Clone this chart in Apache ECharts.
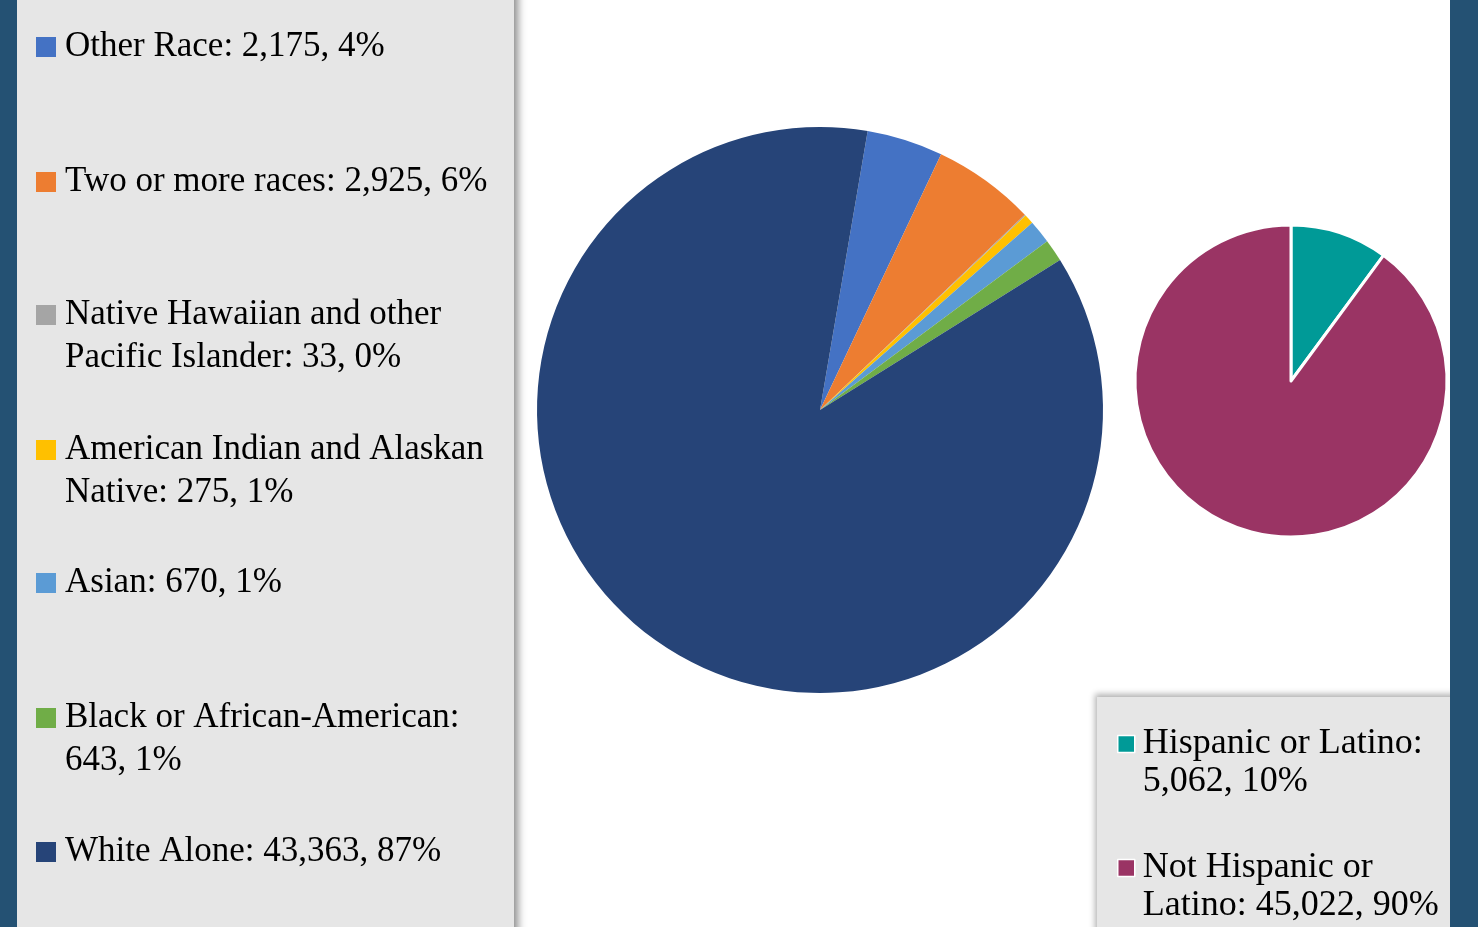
<!DOCTYPE html>
<html>
<head>
<meta charset="utf-8">
<script src="https://cdn.jsdelivr.net/npm/echarts@6/dist/echarts.min.js"></script>
<style>
html, body { margin: 0; padding: 0; background: #fff; }
#chart { width: 1478px; height: 927px; }
</style>
</head>
<body>
<div id="chart"></div>
<script>
// race breakdown (big pie, clockwise from just right of 12 o'clock)
var raceNames = ['Other Race', 'Two or more races', 'Native Hawaiian and other Pacific Islander',
    'American Indian and Alaskan Native', 'Asian', 'Black or African-American', 'White Alone'];
var raceValues = [2175, 2925, 33, 275, 670, 643, 43363];
var raceColors = ['#4472c4', '#ed7d31', '#a5a5a5', '#ffc000', '#5b9bd5', '#70ad47', '#264478'];

// ethnicity (small pie)
var ethNames = ['Hispanic or Latino', 'Not Hispanic or Latino'];
var ethValues = [5062, 45022];
var ethColors = ['#009a97', '#9a3464'];

var measureCtx = document.createElement('canvas').getContext('2d');

function fmtNum(v) {
    return String(v).replace(/\B(?=(\d{3})+(?!\d))/g, ',');
}
function sum(arr) {
    var s = 0;
    for (var i = 0; i < arr.length; i++) s += arr[i];
    return s;
}
// word wrap, so no line starts with a stray space
function wrap(text, font, maxWidth) {
    measureCtx.font = font;
    var words = text.split(' ');
    var lines = [];
    var cur = words[0];
    for (var i = 1; i < words.length; i++) {
        var test = cur + ' ' + words[i];
        if (measureCtx.measureText(test).width > maxWidth) {
            lines.push(cur);
            cur = words[i];
        } else {
            cur = test;
        }
    }
    lines.push(cur);
    return lines;
}
// legend text is vertically centred on the icon, so a wrapped entry gets
// blank lines in front to keep its first line level with the square
function makeFormatter(names, values, font, maxWidth) {
    var total = sum(values);
    return function (name) {
        var i = names.indexOf(name);
        var text = name + ': ' + fmtNum(values[i]) + ', ' + Math.round(values[i] / total * 100) + '%';
        var lines = wrap(text, font, maxWidth);
        return new Array(lines.length).join('\n') + lines.join('\n');
    };
}

// one legend per entry so each sits where the original put it
function raceLegend(i, cy, lines) {
    var lh = 43;
    return {
        data: [raceNames[i]],
        orient: 'vertical',
        left: 36,
        top: cy - (2 * lines - 1) * lh / 2 + 2,
        padding: 0,
        icon: 'rect',
        itemWidth: 20,
        itemHeight: 20,
        selectedMode: false,
        itemStyle: { borderWidth: 0 },
        formatter: makeFormatter(raceNames, raceValues, '35px "Liberation Serif"', 440),
        textStyle: {
            fontFamily: 'Liberation Serif',
            fontSize: 35,
            color: '#000',
            lineHeight: lh,
            padding: [0, 0, 0, 4]
        }
    };
}
function ethLegend(i, cy, lines) {
    var lh = 38;
    return {
        data: [ethNames[i]],
        orient: 'vertical',
        left: 1117,
        top: cy - (2 * lines - 1) * lh / 2 + 2,
        padding: 0,
        icon: 'rect',
        itemWidth: 17,
        itemHeight: 17,
        selectedMode: false,
        itemStyle: { borderColor: '#fff', borderWidth: 1.5 },
        formatter: makeFormatter(ethNames, ethValues, '36px "Liberation Serif"', 312),
        textStyle: {
            fontFamily: 'Liberation Serif',
            fontSize: 36,
            color: '#000',
            lineHeight: lh,
            padding: [0, 0, 0, 3]
        }
    };
}

var chart = echarts.init(document.getElementById('chart'));

var raceData = raceNames.map(function (n, i) {
    return { name: n, value: raceValues[i], itemStyle: { color: raceColors[i] } };
});
var ethData = ethNames.map(function (n, i) {
    return { name: n, value: ethValues[i], itemStyle: { color: ethColors[i] } };
});

var option = {
    backgroundColor: '#fff',
    animation: false,
    graphic: [
        {
            type: 'rect', z: -10,
            shape: { x: 17, y: -10, width: 497, height: 950 },
            style: { fill: '#e6e6e6', shadowColor: 'rgba(0,0,0,0.45)', shadowBlur: 8, shadowOffsetX: 4 }
        },
        {
            type: 'rect', z: -10,
            shape: { x: 1097, y: 697, width: 380, height: 240 },
            style: { fill: '#e6e6e6', shadowColor: 'rgba(0,0,0,0.3)', shadowBlur: 6, shadowOffsetX: -2, shadowOffsetY: -3 }
        },
        {
            type: 'rect', z: 10,
            shape: { x: 0, y: 0, width: 17, height: 927 },
            style: { fill: '#245173' }
        },
        {
            type: 'rect', z: 10,
            shape: { x: 1450, y: 0, width: 28, height: 927 },
            style: { fill: '#245173' }
        }
    ],
    legend: [
        raceLegend(0, 45, 1),
        raceLegend(1, 180, 1),
        raceLegend(2, 313, 2),
        raceLegend(3, 448, 2),
        raceLegend(4, 581, 1),
        raceLegend(5, 716, 2),
        raceLegend(6, 850, 1),
        ethLegend(0, 742, 2),
        ethLegend(1, 866, 2)
    ],
    series: [
        {
            name: 'Race',
            type: 'pie',
            center: [820, 410],
            radius: 283,
            startAngle: 80.3,
            clockwise: true,
            label: { show: false },
            labelLine: { show: false },
            itemStyle: { borderWidth: 0 },
            emphasis: { scale: false },
            data: raceData
        },
        {
            name: 'Ethnicity',
            type: 'pie',
            center: [1291, 381],
            radius: 156,
            startAngle: 90,
            clockwise: true,
            label: { show: false },
            labelLine: { show: false },
            itemStyle: { borderColor: '#fff', borderWidth: 3 },
            emphasis: { scale: false },
            data: ethData
        }
    ]
};

chart.setOption(option);
</script>
</body>
</html>
